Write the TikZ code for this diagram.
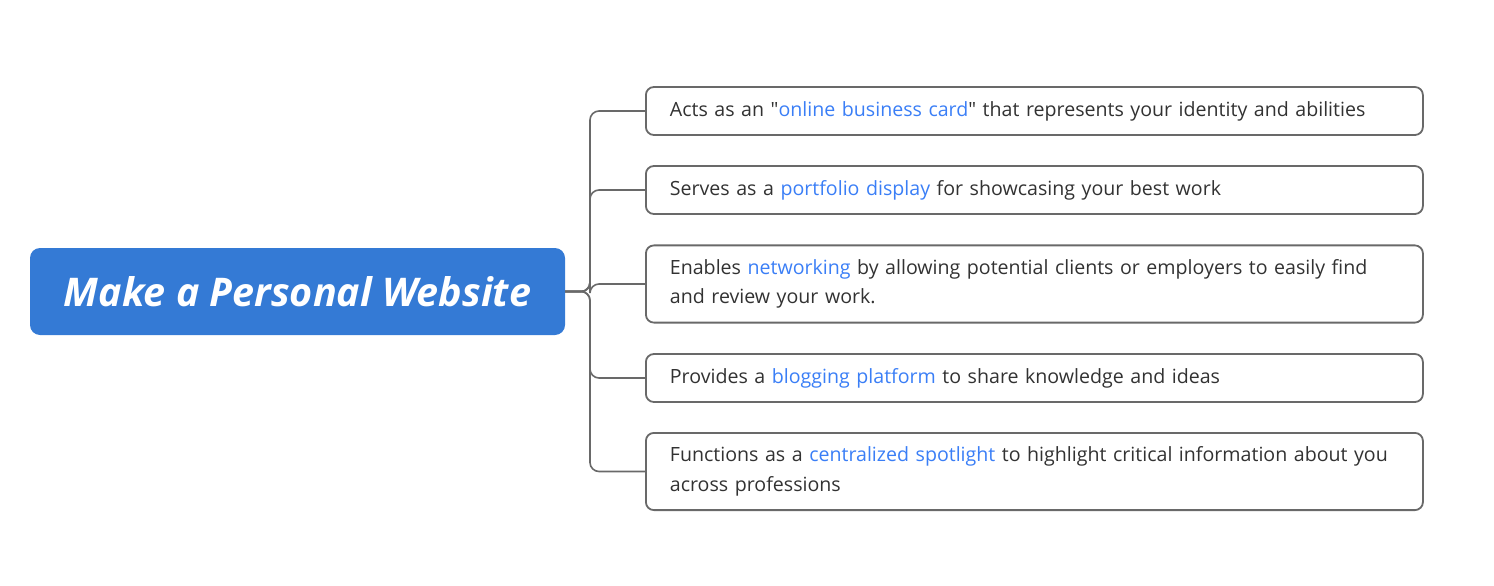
\documentclass[tikz,border=0pt]{standalone}
\usepackage{fontspec}
\setmainfont{Open Sans}
\usepackage{tikz,xcolor}

\definecolor{titleblue}{RGB}{52,122,213}
\definecolor{keyblue}{RGB}{58,126,246}
\definecolor{bodygray}{RGB}{50,50,50}
\definecolor{edgegray}{RGB}{105,105,105}

\begin{document}
\begin{tikzpicture}[x=1pt, y=-1pt,
  topic/.style={fill=titleblue, rounded corners=10pt, text=white, font=\fontsize{39.5}{46}\selectfont\bfseries\itshape, minimum width=535pt, minimum height=87pt, inner sep=0pt},
  point/.style={draw=edgegray, line width=1.8pt, rounded corners=8pt, anchor=west, text=bodygray, font=\fontsize{19.6}{29.5}\selectfont, text width=729pt, align=left, inner xsep=24pt, inner ysep=14pt, minimum height=48pt},
  branch/.style={draw=edgegray, line width=1.6pt, rounded corners=9pt}]

\useasboundingbox (0,0) rectangle (1494,586);
\newcommand{\key}[1]{\textcolor{keyblue}{#1}}

% ── Central topic ──
\node[topic] (main) at (297.5, 291.5) {Make a Personal Website};

% ── Points ──
\node[point] (card)  at (645, 111) {Acts as an \textquotedbl\key{online business card}\textquotedbl{} that represents your identity and abilities};
\node[point] (folio) at (645, 190) {Serves as a \key{portfolio display} for showcasing your best work};
\node[point] (net)   at (645, 284) {Enables \key{networking} by allowing potential clients or employers to easily find\\and review your work.};
\node[point] (blog)  at (645, 378) {Provides a \key{blogging platform} to share knowledge and ideas};
\node[point] (spot)  at (645, 471.5) {Functions as a \key{centralized spotlight} to highlight critical information about you\\across professions};

% ── Branches ──
\coordinate (trunk) at (590, 291.5);
\foreach \n in {card, folio, net, blog, spot}
  \draw[branch] (main.east) -- (trunk) |- (\n.west);

\end{tikzpicture}
\end{document}
